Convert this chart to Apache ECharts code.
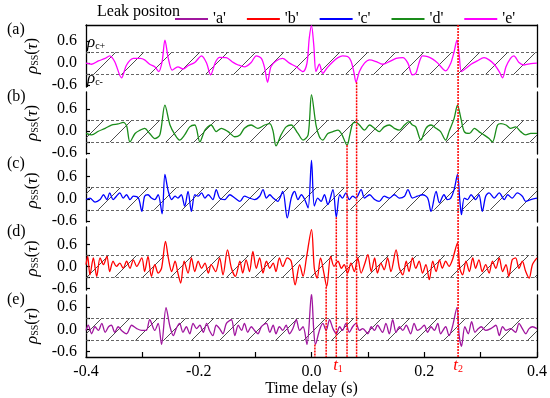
<!DOCTYPE html>
<html><head><meta charset="utf-8">
<script src="https://cdn.jsdelivr.net/npm/echarts@6/dist/echarts.min.js"></script>
<style>html,body{margin:0;padding:0;background:#fff}#c{width:550px;height:398px}</style>
</head><body><div id="c"></div><script>
const FONT = 'Liberation Serif';

// ---------- data ----------
const legendTitle = 'Leak positon';
const seriesNames = ["'a'", "'b'", "'c'", "'d'", "'e'"];
const panelLabels = ['(a)', '(b)', '(c)', '(d)', '(e)'];
const xTickLabels = [-0.4, -0.2, 0.0, 0.2, 0.4];
const xTicks = [-0.4, -0.3, -0.2, -0.1, 0.0, 0.1, 0.2, 0.3, 0.4];
const yTickLabels = [-0.6, 0.0, 0.6];
const yTicks = [-0.6, -0.3, 0.0, 0.3, 0.6];
const bandLimits = [-0.3, 0.3];
const xAxisTitle = 'Time delay (s)';

// panel (a): leak position 'e'
const seriesE = [[-0.400,0.00],[-0.390,-0.03],[-0.378,0.06],[-0.366,0.13],[-0.358,0.20],[-0.349,0.04],[-0.337,-0.40],[-0.328,-0.05],[-0.316,0.13],[-0.304,0.13],[-0.296,0.09],[-0.287,-0.03],[-0.278,-0.10],[-0.271,-0.23],[-0.265,0.04],[-0.260,0.63],[-0.254,0.13],[-0.247,-0.19],[-0.237,-0.10],[-0.228,-0.16],[-0.219,-0.07],[-0.207,0.02],[-0.195,0.20],[-0.186,0.00],[-0.179,-0.32],[-0.170,0.04],[-0.163,0.16],[-0.151,0.15],[-0.139,0.02],[-0.130,-0.05],[-0.119,-0.10],[-0.107,0.02],[-0.098,0.20],[-0.089,0.13],[-0.083,-0.14],[-0.078,-0.52],[-0.072,-0.10],[-0.063,0.06],[-0.051,0.13],[-0.039,0.00],[-0.027,-0.10],[-0.015,-0.23],[-0.008,0.00],[-0.004,0.68],[0.000,1.02],[0.004,0.50],[0.008,-0.23],[0.014,-0.03],[0.020,-0.28],[0.028,-0.12],[0.038,0.04],[0.047,0.15],[0.055,0.20],[0.064,0.18],[0.070,0.06],[0.075,-0.23],[0.079,-0.52],[0.085,-0.23],[0.094,0.00],[0.103,0.09],[0.115,0.04],[0.126,-0.03],[0.138,0.04],[0.150,0.13],[0.162,0.15],[0.171,0.00],[0.179,-0.32],[0.185,-0.28],[0.191,0.02],[0.197,0.20],[0.206,0.18],[0.215,0.11],[0.224,0.00],[0.232,-0.14],[0.238,-0.21],[0.247,0.00],[0.253,0.31],[0.258,0.63],[0.262,0.22],[0.266,-0.23],[0.274,-0.14],[0.283,-0.03],[0.294,0.06],[0.306,0.15],[0.315,0.09],[0.324,-0.03],[0.333,-0.23],[0.339,-0.40],[0.345,-0.10],[0.353,0.13],[0.359,0.20],[0.368,0.02],[0.377,-0.05],[0.389,-0.01],[0.400,0.00]];

// panel (b): leak position 'd'
const seriesD = [[-0.400,-0.06],[-0.390,-0.10],[-0.378,0.00],[-0.366,0.08],[-0.355,0.17],[-0.343,0.20],[-0.334,0.24],[-0.328,0.15],[-0.322,-0.29],[-0.313,-0.06],[-0.304,0.03],[-0.296,0.08],[-0.287,-0.06],[-0.278,-0.20],[-0.269,-0.10],[-0.260,0.71],[-0.251,0.17],[-0.242,-0.10],[-0.234,-0.24],[-0.225,-0.10],[-0.216,0.12],[-0.207,0.17],[-0.198,-0.29],[-0.189,0.03],[-0.178,0.17],[-0.169,-0.01],[-0.160,0.08],[-0.148,-0.01],[-0.136,-0.15],[-0.127,-0.10],[-0.119,0.08],[-0.107,0.17],[-0.095,0.08],[-0.083,0.17],[-0.074,0.21],[-0.068,-0.01],[-0.063,-0.40],[-0.054,-0.10],[-0.045,0.12],[-0.036,0.17],[-0.024,-0.06],[-0.015,-0.24],[-0.006,-0.10],[0.000,1.00],[0.008,0.17],[0.014,-0.15],[0.020,-0.24],[0.029,-0.06],[0.038,-0.01],[0.047,0.03],[0.054,-0.09],[0.063,-0.38],[0.068,-0.10],[0.073,0.21],[0.079,0.24],[0.085,0.17],[0.094,0.03],[0.103,0.17],[0.112,0.08],[0.120,-0.01],[0.129,0.12],[0.138,0.17],[0.147,0.08],[0.156,0.03],[0.165,0.17],[0.173,0.26],[0.179,0.17],[0.185,0.12],[0.194,-0.24],[0.203,0.08],[0.212,0.17],[0.221,0.08],[0.229,-0.01],[0.238,-0.24],[0.244,-0.01],[0.253,0.35],[0.259,0.71],[0.265,0.35],[0.271,-0.01],[0.280,-0.06],[0.289,0.08],[0.297,-0.01],[0.306,-0.10],[0.315,-0.20],[0.321,-0.29],[0.330,0.17],[0.336,0.21],[0.345,0.17],[0.353,0.08],[0.362,0.12],[0.371,-0.01],[0.380,-0.10],[0.389,-0.06],[0.400,-0.06]];

// panel (c): leak position 'c'
const seriesC = [[-0.400,-0.02],[-0.393,0.02],[-0.384,-0.09],[-0.375,-0.02],[-0.369,0.11],[-0.363,-0.02],[-0.358,0.16],[-0.352,-0.02],[-0.346,0.07],[-0.340,0.16],[-0.334,0.02],[-0.328,0.11],[-0.322,-0.02],[-0.316,0.07],[-0.307,0.02],[-0.301,-0.34],[-0.296,0.07],[-0.290,0.11],[-0.284,0.02],[-0.278,-0.02],[-0.272,0.11],[-0.265,-0.41],[-0.260,0.66],[-0.254,0.20],[-0.248,-0.02],[-0.242,0.07],[-0.237,0.02],[-0.231,0.11],[-0.225,-0.20],[-0.219,0.20],[-0.213,-0.34],[-0.207,0.11],[-0.201,0.07],[-0.195,0.16],[-0.189,0.02],[-0.183,0.11],[-0.175,-0.02],[-0.169,0.25],[-0.163,0.02],[-0.154,-0.02],[-0.145,0.11],[-0.136,0.02],[-0.127,-0.07],[-0.119,0.07],[-0.110,0.02],[-0.101,-0.02],[-0.092,0.07],[-0.086,0.25],[-0.080,0.02],[-0.074,0.11],[-0.068,0.02],[-0.060,-0.07],[-0.051,0.20],[-0.043,-0.52],[-0.036,0.02],[-0.030,0.20],[-0.024,-0.02],[-0.018,0.11],[-0.012,-0.02],[-0.006,-0.25],[0.000,1.04],[0.005,-0.20],[0.011,0.02],[0.017,-0.07],[0.023,0.11],[0.029,-0.16],[0.038,0.25],[0.044,-0.50],[0.050,0.11],[0.055,0.02],[0.061,0.16],[0.067,-0.02],[0.073,0.07],[0.079,0.02],[0.088,0.25],[0.094,0.02],[0.103,0.11],[0.112,-0.02],[0.120,-0.07],[0.129,0.07],[0.138,0.02],[0.147,0.11],[0.156,0.02],[0.165,0.07],[0.171,0.25],[0.179,0.02],[0.188,0.07],[0.197,0.11],[0.206,0.02],[0.212,-0.34],[0.221,0.20],[0.227,-0.11],[0.235,0.11],[0.241,-0.02],[0.247,0.02],[0.253,0.25],[0.259,0.66],[0.263,-0.02],[0.266,-0.43],[0.271,0.02],[0.277,-0.02],[0.283,0.11],[0.291,-0.02],[0.297,0.11],[0.303,-0.34],[0.309,0.07],[0.315,0.16],[0.324,0.02],[0.333,0.16],[0.342,-0.02],[0.348,0.11],[0.356,0.02],[0.365,0.16],[0.374,0.07],[0.380,-0.07],[0.389,-0.02],[0.400,0.02]];

// panel (d): leak position 'b'
const seriesB = [[-0.400,0.05],[-0.397,0.27],[-0.393,-0.23],[-0.387,0.23],[-0.381,-0.27],[-0.375,0.23],[-0.369,0.05],[-0.363,0.27],[-0.358,-0.14],[-0.352,0.14],[-0.346,0.00],[-0.340,0.09],[-0.334,-0.05],[-0.328,0.14],[-0.322,-0.05],[-0.316,0.18],[-0.310,0.00],[-0.301,0.23],[-0.296,-0.14],[-0.290,0.27],[-0.284,-0.27],[-0.278,0.05],[-0.272,-0.18],[-0.266,-0.05],[-0.259,0.68],[-0.254,0.23],[-0.248,-0.14],[-0.242,0.14],[-0.237,-0.18],[-0.232,-0.45],[-0.226,0.14],[-0.219,-0.18],[-0.213,0.23],[-0.207,-0.14],[-0.201,0.14],[-0.195,-0.05],[-0.189,0.09],[-0.183,-0.18],[-0.178,0.05],[-0.170,-0.14],[-0.163,0.23],[-0.157,-0.23],[-0.149,0.45],[-0.142,-0.05],[-0.135,-0.27],[-0.127,0.14],[-0.122,-0.18],[-0.116,0.18],[-0.110,-0.14],[-0.104,0.41],[-0.098,-0.05],[-0.092,0.23],[-0.086,-0.18],[-0.080,0.14],[-0.074,-0.05],[-0.068,0.09],[-0.063,-0.14],[-0.057,0.23],[-0.051,0.00],[-0.043,0.23],[-0.036,0.14],[-0.029,-0.50],[-0.021,0.05],[-0.015,-0.27],[-0.009,0.23],[0.000,1.00],[0.005,-0.05],[0.010,-0.32],[0.016,0.23],[0.022,-0.18],[0.027,-0.55],[0.034,0.27],[0.040,0.00],[0.047,0.14],[0.053,-0.05],[0.058,0.05],[0.064,-0.18],[0.070,0.09],[0.076,-0.14],[0.082,0.23],[0.088,-0.18],[0.094,0.05],[0.100,0.32],[0.106,-0.14],[0.112,0.23],[0.117,-0.18],[0.123,0.09],[0.129,-0.09],[0.135,0.23],[0.141,-0.14],[0.150,0.45],[0.156,-0.05],[0.162,-0.23],[0.168,0.14],[0.173,-0.14],[0.179,0.23],[0.185,-0.05],[0.191,0.14],[0.197,-0.18],[0.203,0.05],[0.209,-0.36],[0.215,0.14],[0.221,-0.14],[0.227,0.18],[0.232,-0.05],[0.238,0.14],[0.244,0.00],[0.250,0.18],[0.259,0.64],[0.263,-0.05],[0.268,-0.23],[0.274,0.14],[0.280,-0.14],[0.286,0.23],[0.291,-0.05],[0.297,0.18],[0.303,-0.14],[0.309,0.05],[0.315,-0.18],[0.321,0.14],[0.327,-0.05],[0.333,0.23],[0.339,-0.14],[0.345,0.05],[0.350,-0.27],[0.356,0.18],[0.362,0.23],[0.368,-0.05],[0.374,0.14],[0.380,-0.14],[0.386,-0.32],[0.392,0.05],[0.400,0.23]];

// panel (e): leak position 'a'
const seriesA = [[-0.400,-0.03],[-0.396,0.11],[-0.390,-0.12],[-0.384,0.07],[-0.378,-0.03],[-0.372,0.16],[-0.366,-0.08],[-0.360,0.07],[-0.355,0.11],[-0.349,-0.08],[-0.343,0.07],[-0.337,-0.03],[-0.328,-0.12],[-0.319,0.11],[-0.310,0.02],[-0.301,-0.03],[-0.293,-0.03],[-0.287,0.26],[-0.278,-0.03],[-0.272,0.16],[-0.266,-0.41],[-0.258,0.59],[-0.251,0.07],[-0.245,-0.17],[-0.240,0.02],[-0.234,0.16],[-0.228,-0.08],[-0.222,0.07],[-0.216,-0.12],[-0.210,0.16],[-0.204,0.02],[-0.198,0.11],[-0.192,-0.08],[-0.186,0.16],[-0.181,-0.03],[-0.175,-0.17],[-0.169,0.11],[-0.163,0.02],[-0.157,-0.12],[-0.151,0.16],[-0.142,0.26],[-0.136,-0.17],[-0.130,0.11],[-0.124,-0.03],[-0.119,0.16],[-0.113,-0.08],[-0.107,0.07],[-0.101,-0.03],[-0.095,-0.12],[-0.089,0.07],[-0.080,0.16],[-0.074,-0.08],[-0.068,0.11],[-0.063,-0.12],[-0.057,0.07],[-0.051,-0.03],[-0.045,0.11],[-0.039,-0.12],[-0.033,0.02],[-0.027,0.26],[-0.021,-0.03],[-0.015,0.07],[-0.008,-0.41],[0.000,0.97],[0.004,-0.03],[0.007,-0.41],[0.014,-0.03],[0.020,0.16],[0.026,-0.03],[0.032,0.26],[0.038,0.02],[0.044,-0.12],[0.050,0.07],[0.055,-0.03],[0.061,0.16],[0.067,-0.08],[0.073,0.07],[0.079,0.16],[0.085,-0.03],[0.091,0.02],[0.100,-0.12],[0.106,0.07],[0.112,-0.03],[0.117,0.11],[0.126,-0.08],[0.132,0.16],[0.138,-0.12],[0.144,0.26],[0.150,-0.08],[0.156,0.07],[0.162,-0.03],[0.168,0.11],[0.176,-0.12],[0.182,0.16],[0.188,-0.03],[0.194,0.02],[0.200,0.11],[0.206,-0.08],[0.212,0.07],[0.218,-0.03],[0.224,0.16],[0.229,-0.12],[0.238,0.07],[0.244,-0.17],[0.250,0.07],[0.258,0.59],[0.262,-0.17],[0.266,-0.46],[0.272,0.07],[0.278,-0.12],[0.284,0.21],[0.290,-0.08],[0.296,0.02],[0.301,0.07],[0.309,-0.03],[0.318,0.02],[0.327,0.11],[0.333,-0.17],[0.339,0.07],[0.345,-0.03],[0.353,0.02],[0.362,-0.08],[0.368,0.16],[0.374,0.02],[0.380,-0.12],[0.386,0.02],[0.392,0.07],[0.400,0.02]];

// red marker lines: time lag, panel where it starts (0 = top), value where it starts
const lagTimes = [0.006, 0.026, 0.044, 0.063, 0.080, 0.260];
const lagStartPanel = [4, 3, 2, 1, 0, 0];
const lagStartValue = [-0.41, -0.55, -0.50, -0.38, -0.52, 1.04];
const lagLabels = [{ sub: '1', t: 0.047 }, { sub: '2', t: 0.260 }];

// ---------- layout / style ----------
const panelData = [seriesE, seriesD, seriesC, seriesB, seriesA];
const panelNames = ["'e'", "'d'", "'c'", "'b'", "'a'"];
const panelColors = ['#ff00ff', '#1a8c1a', '#0000ff', '#ff0000', '#a0169f'];
const panelTop = [25, 92, 159, 227, 295];
const panelBottom = [87, 154, 222, 290, 357];
const yMin = [-0.65, -0.62, -0.63, -0.64, -0.75];
const yMax = [1.04, 1.07, 1.08, 1.07, 0.93];
const GL = 86, GR = 13;

// hatch pattern
const pc = document.createElement('canvas');
pc.width = 28; pc.height = 28;
const g = pc.getContext('2d');
g.strokeStyle = '#3a3a3a'; g.lineWidth = 0.9;
g.beginPath();
g.moveTo(-2, 30); g.lineTo(30, -2);
g.moveTo(26, 30); g.lineTo(30, 26);
g.moveTo(-2, 2); g.lineTo(2, -2);
g.stroke();

const txt = (size, extra) => Object.assign({ fontFamily: FONT, fontSize: size, color: '#000' }, extra || {});

const grids = [], xAxes = [], yAxes = [], series = [];
for (let i = 0; i < 5; i++) {
  grids.push({ left: GL, right: GR, top: panelTop[i], height: panelBottom[i] - panelTop[i] });
  const isBottom = i === 4, isTop = i === 0;
  xAxes.push({
    gridIndex: i, type: 'value', min: -0.4, max: 0.4,
    position: isTop ? 'top' : 'bottom',
    show: isTop || isBottom,
    axisLine: { show: true, onZero: false, lineStyle: { color: '#000', width: 1.3 } },
    axisTick: { show: isBottom, inside: true, length: 5, customValues: xTicks, lineStyle: { color: '#000', width: 1.2 } },
    axisLabel: Object.assign({ show: isBottom, customValues: xTickLabels, formatter: v => v.toFixed(1), margin: 7 }, txt(16)),
    splitLine: { show: false },
    name: isBottom ? xAxisTitle : '', nameLocation: 'middle', nameGap: 22,
    nameTextStyle: txt(16)
  });
  yAxes.push({
    gridIndex: i, type: 'value', min: yMin[i], max: yMax[i], position: 'left',
    axisLine: { show: true, onZero: false, lineStyle: { color: '#000', width: 1.3 } },
    axisTick: { show: true, inside: true, length: 4, customValues: yTicks, lineStyle: { color: '#000', width: 1.2 } },
    axisLabel: Object.assign({ customValues: yTickLabels, formatter: v => v.toFixed(1), margin: 9 }, txt(16)),
    splitLine: { show: false },
    name: '{i|ρ}{s|SS}{n|(}{i|τ}{n|)}', nameLocation: 'middle', nameRotate: 90, nameGap: 36,
    nameTextStyle: Object.assign(txt(16), {
      rich: {
        i: txt(17, { fontStyle: 'italic' }),
        n: txt(16),
        s: txt(10, { verticalAlign: 'bottom', padding: [6, 0, 0, 0] })
      }
    })
  });
}
for (let i = 0; i < 5; i++) {
  yAxes.push({
    gridIndex: i, type: 'value', min: yMin[i], max: yMax[i], position: 'right',
    axisLine: { show: true, onZero: false, lineStyle: { color: '#000', width: 1.3 } },
    axisTick: { show: false }, axisLabel: { show: false }, splitLine: { show: false }
  });
}
// overlay grid for the red marker lines
grids.push({ left: GL, right: GR, top: panelTop[0], height: panelBottom[4] - panelTop[0] });
xAxes.push({ gridIndex: 5, type: 'value', min: -0.4, max: 0.4, show: false });
yAxes.push({ gridIndex: 5, type: 'value', min: 0, max: 1, show: false });

for (let i = 0; i < 5; i++) {
  series.push({
    name: panelNames[i], type: 'line', xAxisIndex: i, yAxisIndex: i,
    data: panelData[i], showSymbol: false, symbol: 'none', smooth: 0.3,
    lineStyle: { color: panelColors[i], width: 1.3 }, itemStyle: { color: panelColors[i] },
    z: 3, silent: true,
    markArea: { silent: true, z: 1, itemStyle: { color: { image: pc, repeat: 'repeat' }, opacity: 1, borderWidth: 0 },
      data: [[{ yAxis: bandLimits[0] }, { yAxis: bandLimits[1] }]] },
    markLine: { silent: true, symbol: 'none', z: 2, label: { show: false },
      lineStyle: { color: '#555', width: 0.9, type: [3, 2] },
      data: bandLimits.map(v => ({ yAxis: v })) }
  });
}

const chart = echarts.init(document.getElementById('c'), null, { renderer: 'canvas' });
const option = {
  animation: false,
  backgroundColor: '#fff',
  textStyle: { fontFamily: FONT },
  grid: grids, xAxis: xAxes, yAxis: yAxes, series: series,
  legend: {
    data: seriesNames, left: 170, top: 6, itemWidth: 33, itemHeight: 2, itemGap: 21, icon: 'rect',
    textStyle: txt(16), selectedMode: false
  },
  graphic: []
};
chart.setOption(option);

// red lag lines via axis conversions
const redSeries = lagTimes.map((t, k) => {
  const py = chart.convertToPixel({ yAxisIndex: lagStartPanel[k] }, lagStartValue[k]);
  const ov = chart.convertFromPixel({ yAxisIndex: 10 }, py);
  return {
    type: 'line', xAxisIndex: 5, yAxisIndex: 10, data: [[t, ov], [t, 0]],
    symbol: 'none', silent: true, z: 6,
    lineStyle: { color: '#ff0000', width: 1.5, type: [2, 1] }
  };
});
const graphics = [];
graphics.push({ type: 'text', left: 97, top: 4, style: { text: legendTitle, font: '16px ' + FONT, fill: '#000' } });
panelLabels.forEach((s, i) => {
  graphics.push({ type: 'text', left: 7, top: panelTop[i] - 3, style: { text: s, font: '16px ' + FONT, fill: '#000' } });
});
const rhoRich = {
  i: { fontFamily: FONT, fontSize: 17, fontStyle: 'italic', fill: '#000' },
  s: { fontFamily: FONT, fontSize: 10, fill: '#000', verticalAlign: 'bottom', padding: [6, 0, 0, 0] }
};
graphics.push({ type: 'text', left: 87, top: 34, style: { text: '{i|ρ}{s|c+}', rich: rhoRich } });
graphics.push({ type: 'text', left: 87, top: 70, style: { text: '{i|ρ}{s|c-}', rich: rhoRich } });
lagLabels.forEach(l => {
  const px = chart.convertToPixel({ xAxisIndex: 4 }, l.t);
  graphics.push({ type: 'text', x: px, y: 357, style: {
    text: '{i|t}{s|' + l.sub + '}', align: 'center',
    rich: {
      i: { fontFamily: FONT, fontSize: 17, fontStyle: 'italic', fill: '#ff0000' },
      s: { fontFamily: FONT, fontSize: 10, fill: '#ff0000', verticalAlign: 'bottom', padding: [6, 0, 0, 0] }
    } } });
});
chart.setOption({ series: series.concat(redSeries), graphic: graphics });
</script></body></html>
